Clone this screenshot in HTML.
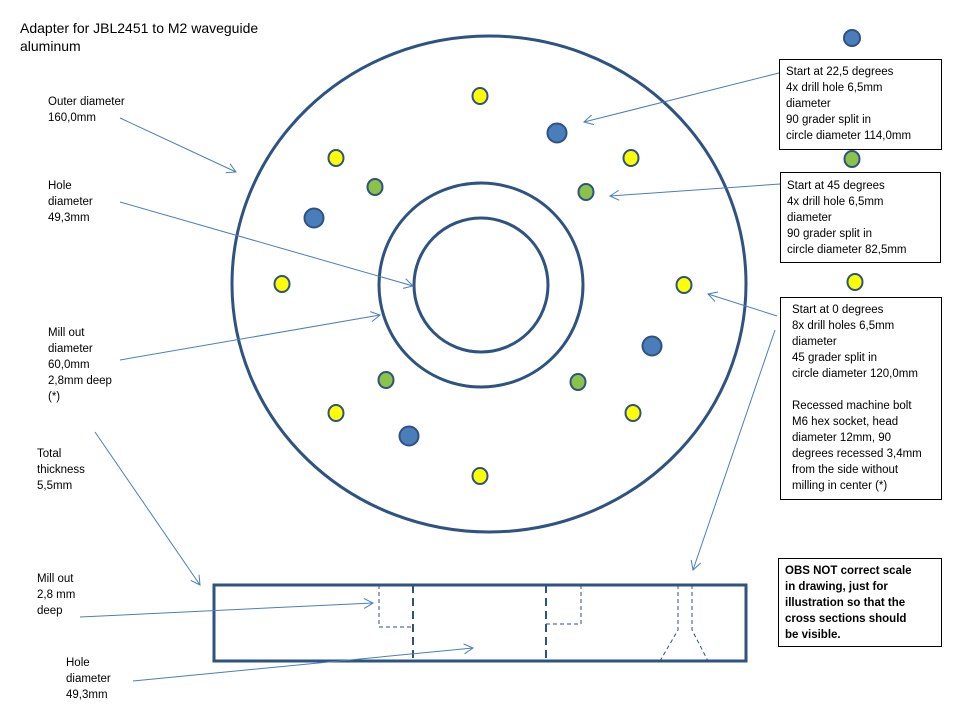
<!DOCTYPE html>
<html><head><style>
body{margin:0;background:#fff;}
svg{display:block;font-family:"Liberation Sans",sans-serif;}
.t{font-size:11.5px;fill:#000;}
</style></head><body>
<svg width="960" height="720" viewBox="0 0 960 720">
<defs><marker id="a" markerWidth="12" markerHeight="12" refX="10" refY="6" orient="auto" markerUnits="userSpaceOnUse"><path d="M1,1 L10,6 L1,11" fill="none" stroke="#4a7ebb" stroke-width="1"/></marker></defs>
<text x="20" y="33" font-size="14">Adapter for JBL2451 to M2 waveguide</text>
<text x="20" y="51" font-size="14">aluminum</text>
<g fill="none" stroke="#2e5282" stroke-width="3">
<ellipse cx="489" cy="284" rx="257" ry="248"/>
<circle cx="481" cy="285" r="102"/>
<circle cx="481" cy="285" r="67"/>
<rect x="214" y="585" width="532" height="76"/>
</g>
<g stroke="#2e5282" stroke-width="2">
<g fill="#ffff00"><ellipse cx="480" cy="96" rx="7.5" ry="8"/><ellipse cx="336" cy="158" rx="7.5" ry="8"/><ellipse cx="631" cy="158" rx="7.5" ry="8"/><ellipse cx="282" cy="284" rx="7.5" ry="8"/><ellipse cx="684" cy="285" rx="7.5" ry="8"/><ellipse cx="336" cy="413" rx="7.5" ry="8"/><ellipse cx="633" cy="413" rx="7.5" ry="8"/><ellipse cx="480" cy="476" rx="7.5" ry="8"/><ellipse cx="855" cy="282" rx="7.5" ry="8"/></g>
<g fill="#8bc34a"><ellipse cx="375" cy="187" rx="7.5" ry="8"/><ellipse cx="586" cy="192" rx="7.5" ry="8"/><ellipse cx="386" cy="380" rx="7.5" ry="8"/><ellipse cx="578" cy="382" rx="7.5" ry="8"/><ellipse cx="852" cy="159" rx="7.5" ry="8"/></g>
<g fill="#4a7ebb"><circle cx="557" cy="133" r="9.5"/><circle cx="314" cy="218" r="9.5"/><circle cx="652" cy="346" r="9.5"/><circle cx="409" cy="436" r="9.5"/><circle cx="852" cy="38" r="8"/></g>
</g>
<g stroke="#2e5282" fill="none">
<path d="M413,585V661M546,585V661" stroke-width="2" stroke-dasharray="8,5"/>
<path d="M379,585V627H413M581,585V624H546M678,585V630L660,661M692,585V630L708,661" stroke-width="1" stroke-dasharray="4,3"/>
</g>
<g stroke="#4a7ebb" stroke-width="1" fill="none" marker-end="url(#a)">
<line x1="120" y1="118" x2="236" y2="172"/>
<line x1="120" y1="202" x2="413" y2="286"/>
<line x1="120" y1="360" x2="380" y2="315"/>
<line x1="95" y1="432" x2="200" y2="585"/>
<line x1="80" y1="617" x2="373" y2="603"/>
<line x1="133" y1="681" x2="473" y2="648"/>
<line x1="779" y1="73" x2="584" y2="122"/>
<line x1="780" y1="184" x2="610" y2="196"/>
<line x1="777" y1="316" x2="708" y2="294"/>
<line x1="775" y1="330" x2="693" y2="570"/>
</g>
<g fill="#fff" stroke="#000" stroke-width="1">
<rect x="779.5" y="59.5" width="162" height="90"/>
<rect x="780.5" y="172.5" width="160" height="90"/>
<rect x="780.5" y="297.5" width="161" height="202"/>
<rect x="778.5" y="558.5" width="163" height="88"/>
</g>
<g class="t">
<text x="48" y="105">Outer diameter</text><text x="48" y="121">160,0mm</text>
<text x="48" y="189">Hole</text><text x="48" y="205">diameter</text><text x="48" y="221">49,3mm</text>
<text x="48" y="336">Mill out</text><text x="48" y="352">diameter</text><text x="48" y="368">60,0mm</text><text x="48" y="384">2,8mm deep</text><text x="48" y="400">(*)</text>
<text x="37" y="457">Total</text><text x="37" y="473">thickness</text><text x="37" y="489">5,5mm</text>
<text x="37" y="582">Mill out</text><text x="37" y="598">2,8 mm</text><text x="37" y="614">deep</text>
<text x="66" y="666">Hole</text><text x="66" y="682">diameter</text><text x="66" y="698">49,3mm</text>
<text x="786" y="75">Start at 22,5 degrees</text><text x="786" y="91">4x drill hole 6,5mm</text><text x="786" y="107">diameter</text><text x="786" y="123">90 grader split in</text><text x="786" y="139">circle diameter 114,0mm</text>
<text x="787" y="189">Start at 45 degrees</text><text x="787" y="205">4x drill hole 6,5mm</text><text x="787" y="221">diameter</text><text x="787" y="237">90 grader split in</text><text x="787" y="253">circle diameter 82,5mm</text>
<text x="792" y="313">Start at  0 degrees</text><text x="792" y="329">8x drill holes 6,5mm</text><text x="792" y="345">diameter</text><text x="792" y="361">45 grader split in</text><text x="792" y="377">circle diameter 120,0mm</text>
<text x="792" y="409">Recessed machine bolt</text><text x="792" y="425">M6 hex socket, head</text><text x="792" y="441">diameter 12mm, 90</text><text x="792" y="457">degrees recessed 3,4mm</text><text x="792" y="473">from the side without</text><text x="792" y="489">milling in center (*)</text>
</g>
<g class="t" font-weight="bold" font-size="11px">
<text x="785" y="574">OBS  NOT correct scale</text><text x="785" y="590">in drawing, just for</text><text x="785" y="606">illustration so that the</text><text x="785" y="622">cross sections should</text><text x="785" y="638">be visible.</text>
</g>
</svg>
</body></html>
